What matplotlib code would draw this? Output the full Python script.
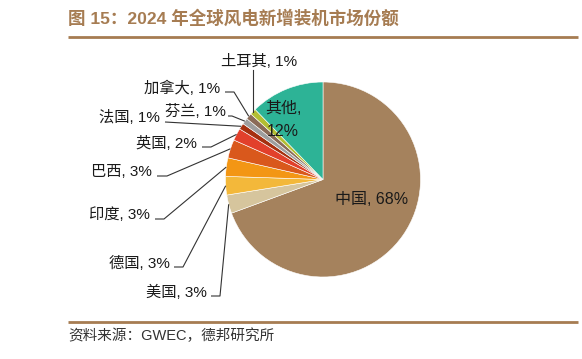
import numpy as np
import matplotlib
matplotlib.use("Agg")
import matplotlib.pyplot as plt

plt.rcParams['font.family'] = ['Liberation Sans', 'Noto Sans CJK SC', 'DejaVu Sans']

# ---- data ----
countries = ['中国', '美国', '德国', '印度', '巴西', '英国', '法国', '芬兰', '加拿大', '土耳其', '其他']
shares = [68, 3, 3, 3, 3, 2, 1, 1, 1, 1, 12]
colors = ['#A5825D', '#D6C59D', '#F3B83A', '#F39614', '#D9581C', '#E2402B',
          '#A6300F', '#9E9E9E', '#8A6A57', '#B3BE32', '#2DB396']
title = '图 15：2024 年全球风电新增装机市场份额'
source = '资料来源：GWEC，德邦研究所'

W, H = 582, 359
fig = plt.figure(figsize=(W / 100, H / 100), dpi=100)
ax = fig.add_axes([0, 0, 1, 1])

def Y(y):
    return H - y

cx, cy, R = 323, 179.5, 97.5
wedges, _ = ax.pie(shares, colors=colors, startangle=90, counterclock=False,
                   center=(cx, Y(cy)), radius=R, frame=True,
                   wedgeprops=dict(edgecolor='white', linewidth=0.4))
ax.set_xlim(0, W)
ax.set_ylim(0, H)
ax.set_aspect('equal')
ax.axis('off')

def edge_point(w):
    ang = np.deg2rad((w.theta1 + w.theta2) / 2)
    return cx + R * np.cos(ang), Y(cy) + R * np.sin(ang)

fs = 11
lc = '#333333'
lw = 0.8
# label layout: name -> (text right x, text center y, horizontal start x, horizontal end x)
layout = {
    '美国': (207, 292, 211, 220),
    '德国': (170, 263, 174, 183),
    '印度': (150, 215, 155, 164),
    '巴西': (152, 172, 157, 167),
    '英国': (197, 143, 202, 211),
    '法国': (160, 118, 165, 165),
    '芬兰': (226, 112, 228, 232),
    '加拿大': (220, 88, 225, 234),
}
for w, name, v in zip(wedges, countries, shares):
    lab = f'{name}, {v}%'
    if name in layout:
        tx, ty, hx0, hx1 = layout[name]
        ex, ey = edge_point(w)
        ly = ty + 4
        ax.plot([hx0, hx1, ex], [Y(ly), Y(ly), ey], color=lc, lw=lw, solid_capstyle='butt')
        ax.text(tx, Y(ty), lab, ha='right', va='center', fontsize=fs, color='#1a1a1a')
    elif name == '土耳其':
        ex, ey = edge_point(w)
        ax.plot([ex, ex], [Y(70), ey], color=lc, lw=lw)
        ax.text(259, Y(61), lab, ha='center', va='center', fontsize=fs, color='#1a1a1a')
    elif name == '其他':
        ax.text(283, Y(108), f'{name},', ha='center', va='center', fontsize=11.5, color='#1a1a1a')
        ax.text(283, Y(131), f'{v}%', ha='center', va='center', fontsize=11.5, color='#1a1a1a')
    elif name == '中国':
        ax.text(372, Y(200), lab, ha='center', va='center', fontsize=11.5, color='#1a1a1a')

# title & source
tcol = '#A67C52'
ax.text(68, Y(18), title, ha='left', va='center', fontsize=12.6, fontweight='bold', color=tcol)
ax.plot([68, 578], [Y(36.5), Y(36.5)], color=tcol, lw=2, solid_capstyle='butt')
ax.plot([68, 578], [Y(321.5), Y(321.5)], color=tcol, lw=2, solid_capstyle='butt')
ax.text(68, Y(336), source, ha='left', va='center', fontsize=10.5, color='#333333')

fig.savefig('out.png', dpi=100)
